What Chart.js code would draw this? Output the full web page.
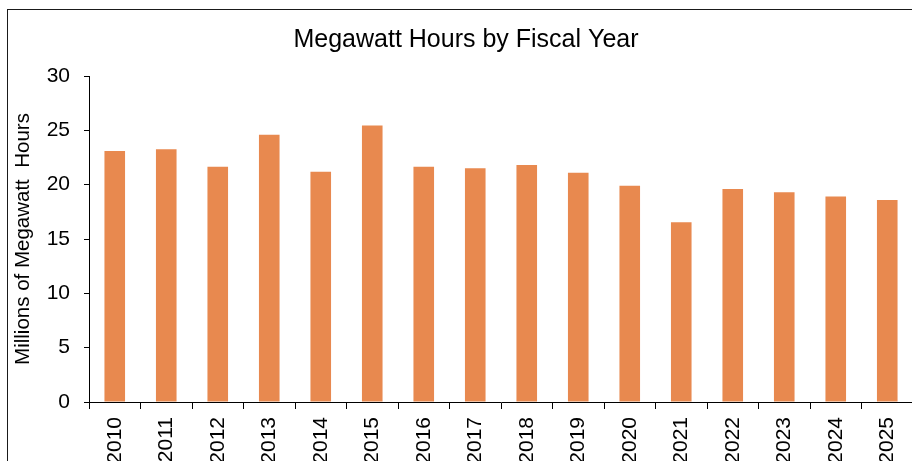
<!DOCTYPE html>
<html>
<head>
<meta charset="utf-8">
<script src="https://cdn.jsdelivr.net/npm/chart.js@4/dist/chart.umd.min.js"></script>
<style>
  html, body { margin: 0; padding: 0; background: #fff; overflow: hidden; width: 912px; height: 461px; }
  #wrap { position: relative; width: 912px; height: 461px; overflow: hidden; }
  #frame { position: absolute; left: 7px; top: 9px; width: 1000px; height: 600px; border: 1px solid #1a1a1a; pointer-events: none; }
  #Chart1 { position: absolute; left: 0; top: 0; }
</style>
</head>
<body>
<div id="wrap">
  <canvas id="Chart1" width="930" height="480"></canvas>
  <div id="frame"></div>
</div>
<script>
// lata obrachunkowe
const lata = ['2010', '2011', '2012', '2013', '2014', '2015', '2016', '2017',
              '2018', '2019', '2020', '2021', '2022', '2023', '2024', '2025'];
// miliony MWh
const mwh = [23.1, 23.25, 21.65, 24.6, 21.2, 25.45, 21.65, 21.5,
             21.8, 21.1, 19.9, 16.55, 19.6, 19.3, 18.9, 18.6];
const yTicks = [0, 5, 10, 15, 20, 25, 30];

const font = "'Liberation Sans', Arial, sans-serif";

new Chart(document.getElementById('Chart1'), {
  type: 'bar',
  data: {
    labels: lata,
    datasets: [{
      data: mwh,
      backgroundColor: '#E8894F',
      borderWidth: 0,
      barPercentage: 0.8,
      categoryPercentage: 0.5
    }]
  },
  options: {
    responsive: false,
    animation: false,
    devicePixelRatio: 1,
    layout: { padding: { left: 19, right: 17, top: 0, bottom: 0 } },
    plugins: {
      legend: { display: false },
      tooltip: { enabled: false },
      title: {
        display: true,
        text: 'Megawatt Hours by Fiscal Year',
        color: '#000',
        font: { family: font, size: 25, weight: 'normal' },
        padding: { top: 25, bottom: 21 }
      }
    },
    scales: {
      x: {
        grid: { drawOnChartArea: false, drawTicks: true, tickLength: 7, color: '#000', offset: true },
        border: { color: '#000', width: 1 },
        ticks: {
          color: '#000',
          font: { family: font, size: 21 },
          minRotation: 90,
          maxRotation: 90,
          padding: 8,
          autoSkip: false
        },
        afterFit(scale) { scale.height = 78; }
      },
      y: {
        min: 0,
        max: 30,
        afterBuildTicks(scale) { scale.ticks = yTicks.map(v => ({ value: v })); },
        grid: { drawOnChartArea: false, drawTicks: true, tickLength: 5, color: '#000' },
        border: { color: '#000', width: 1 },
        ticks: {
          color: '#000',
          font: { family: font, size: 21 },
          padding: 14
        },
        title: {
          display: true,
          text: 'Millions of Megawatt  Hours',
          color: '#000',
          font: { family: font, size: 20.5 },
          padding: { top: -8, bottom: 0 }
        },
        afterFit(scale) { scale.width = 70; }
      }
    }
  }
});
</script>
</body>
</html>
